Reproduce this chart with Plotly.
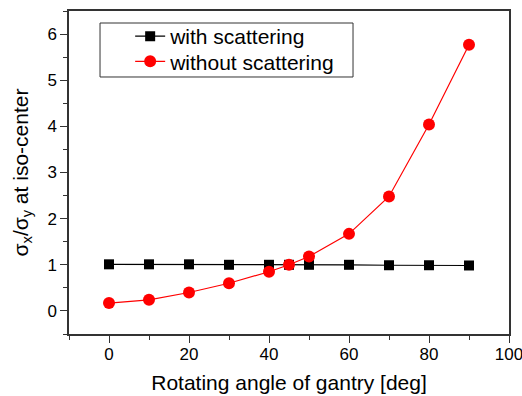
import plotly.graph_objects as go

angles = [0, 10, 20, 30, 40, 45, 50, 60, 70, 80, 90]
with_scattering = [1.01, 1.01, 1.01, 1.00, 1.00, 1.00, 1.00, 1.00, 0.99, 0.99, 0.985]
without_scattering = [0.17, 0.24, 0.40, 0.60, 0.85, 1.00, 1.18, 1.67, 2.48, 4.04, 5.77]
x_ticks = [0, 20, 40, 60, 80, 100]
y_ticks = [0, 1, 2, 3, 4, 5, 6]

FONT = "Liberation Sans, Arial"

fig = go.Figure()
fig.add_trace(go.Scatter(
    x=angles, y=with_scattering, mode="lines+markers", name="with scattering",
    line=dict(color="black", width=1.2),
    marker=dict(symbol="square", size=10, color="black"),
    legend="legend",
))
fig.add_trace(go.Scatter(
    x=angles, y=without_scattering, mode="lines+markers", name="without scattering",
    line=dict(color="red", width=1.2),
    marker=dict(symbol="circle", size=12, color="red"),
    legend="legend2",
))

axis_common = dict(
    showline=True, linecolor="#333333", linewidth=1.5, mirror=True,
    ticks="outside", ticklen=7, tickwidth=1.2, tickcolor="#333333",
    showgrid=False, zeroline=False, automargin=False,
    tickfont=dict(family=FONT, size=17, color="black"),
    ticklabeloverflow="allow",
)

fig.update_xaxes(
    range=[-10, 100.001], tickvals=x_ticks, ticktext=[str(v) for v in x_ticks],
    minor=dict(tickvals=[-10, 10, 30, 50, 70, 90], ticks="outside", ticklen=4, tickcolor="#333333"),
    title=dict(text="Rotating angle of gantry [deg]", font=dict(family=FONT, size=21, color="black"), standoff=12),
    ticklabelstandoff=-3,
    **axis_common,
)
fig.update_yaxes(
    range=[-0.5, 6.5], tickvals=y_ticks,
    minor=dict(tickvals=[-0.5, 0.5, 1.5, 2.5, 3.5, 4.5, 5.5, 6.5], ticks="outside", ticklen=4, tickcolor="#333333"),
    title=dict(text="σ<sub>x</sub>/σ<sub>y</sub> at iso-center", font=dict(family=FONT, size=21, color="black"), standoff=13),
    **axis_common,
)

legend_common = dict(
    xanchor="left", yanchor="middle", x=0.139,
    borderwidth=0, bgcolor="rgba(0,0,0,0)",
    font=dict(family=FONT, size=21, color="black"),
)

fig.update_layout(
    width=522, height=396,
    margin=dict(l=69, r=13, t=11, b=62),
    plot_bgcolor="white", paper_bgcolor="white",
    legend=dict(y=0.921, **legend_common),
    legend2=dict(y=0.843, **legend_common),
    showlegend=True,
    shapes=[dict(
        type="rect", xref="paper", yref="paper",
        x0=0.0705, x1=0.6455, y0=0.7957, y1=0.9628,
        line=dict(color="#333333", width=1), fillcolor="white", layer="below",
    )],
)

fig.write_html("out.html")
